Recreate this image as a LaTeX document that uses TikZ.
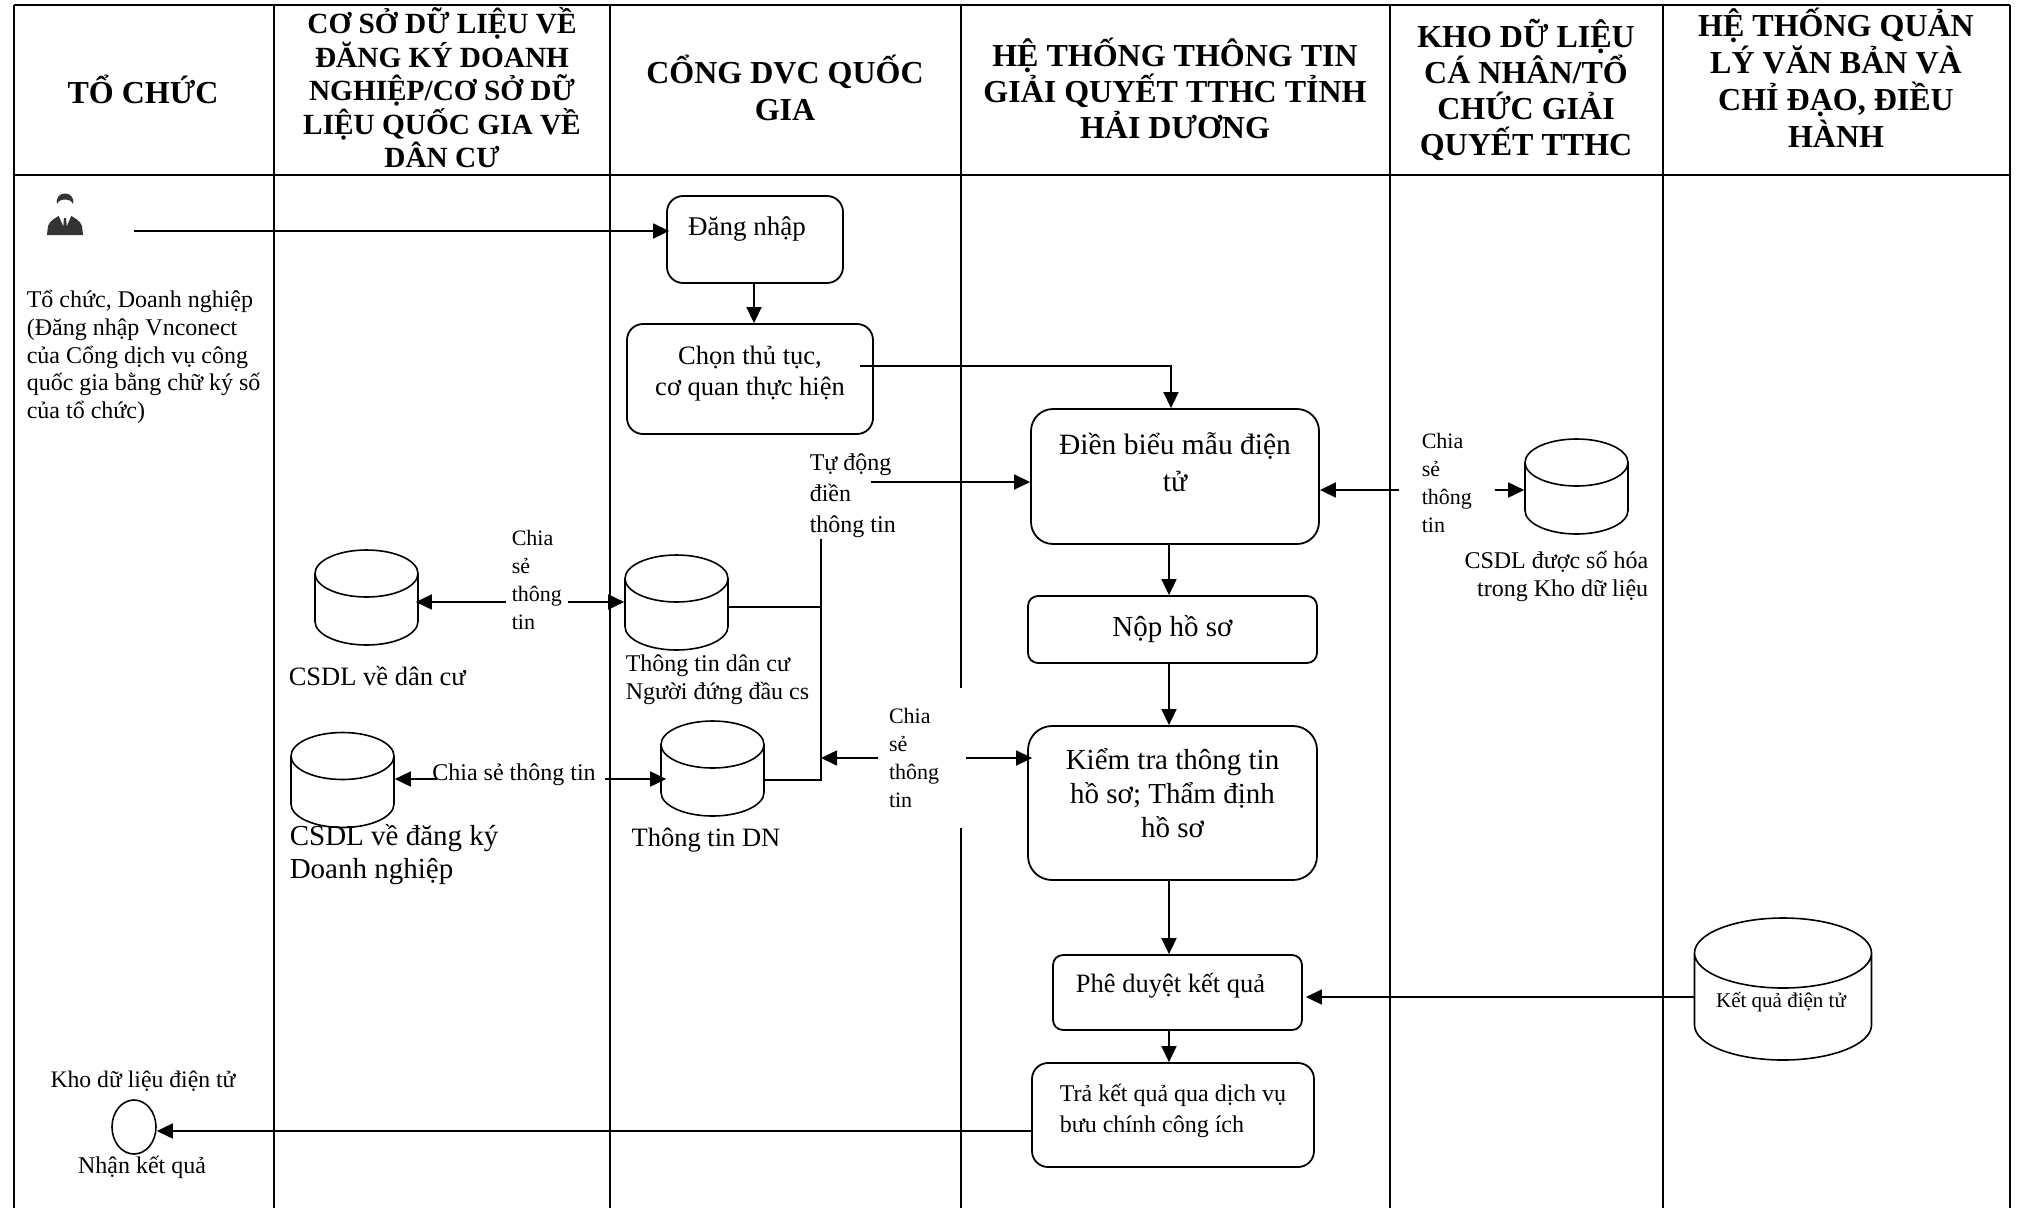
\documentclass[tikz,border=0pt]{standalone}
\usepackage{fontspec}
\setmainfont{Liberation Serif}
\usetikzlibrary{arrows.meta,shapes.geometric}
\newcommand{\fsize}[2]{\fontsize{#1}{#2}\selectfont}
\newcommand{\lifted}[3][c]{\raisebox{#2}[0pt][0pt]{\begin{tabular}{@{}#1@{}}#3\end{tabular}}}
\begin{document}
\begin{tikzpicture}[x=1pt,y=-1pt,line width=1.6pt,>={Triangle[length=16pt,width=15pt]},
    head/.style = {align=center,font=\bfseries},
    step box/.style = {draw,rounded corners=#1,line width=1.8pt,inner sep=0pt,align=center},
    step box/.default = 16pt,
    db/.style = {draw,shape=cylinder,shape border rotate=90,inner sep=10pt,shape aspect=2.35,anchor=shape center,minimum width=103pt,minimum height=95pt},
    note/.style = {align=left,inner sep=0pt}]
      \useasboundingbox (0,0) rectangle (2018,1208);
      % lanes
      \draw (14,5) -- (2010,5);
      \draw (14,175) -- (2010,175);
      \draw (14,5) -- (14,1208);
      \draw (274,5) -- (274,1208);
      \draw (610,5) -- (610,1208);
      \draw (961,5) -- (961,1208);
      \draw (1390,5) -- (1390,1208);
      \draw (1663,5) -- (1663,1208);
      \draw (2010,5) -- (2010,1208);
      \node[head,font=\bfseries\fsize{32}{36}] (h1) at (143,89) {TỔ CHỨC};
      \node[head,font=\bfseries\fsize{29.3}{33.5}] (h2) at (442,88) {CƠ SỞ DỮ LIỆU VỀ\\ĐĂNG KÝ DOANH\\NGHIỆP/CƠ SỞ DỮ\\LIỆU QUỐC GIA VỀ\\DÂN CƯ};
      \node[head,font=\bfseries\fsize{32}{37}] (h3) at (785,88) {CỔNG DVC QUỐC\\GIA};
      \node[head,font=\bfseries\fsize{32}{36}] (h4) at (1175,88) {HỆ THỐNG THÔNG TIN\\GIẢI QUYẾT TTHC TỈNH\\HẢI DƯƠNG};
      \node[head,font=\bfseries\fsize{32}{36}] (h5) at (1526,90) {KHO DỮ LIỆU\\CÁ NHÂN/TỔ\\CHỨC GIẢI\\QUYẾT TTHC};
      \node[head,font=\bfseries\fsize{32}{37}] (h6) at (1836,78) {HỆ THỐNG QUẢN\\LÝ VĂN BẢN VÀ\\CHỈ ĐẠO, ĐIỀU\\HÀNH};
      % person
      \fill[black!80] (47,235) -- (48,226) .. controls (50,220) and (56,218) .. (60,215) -- (70,215) .. controls (74,218) and (80,220) .. (82,226) -- (83,235) -- cycle;
      \fill[white] (58,214) -- (65,230) -- (72,214) -- cycle;
      \fill[black!80] (64,218) -- (66,218) -- (67,229) -- (65,232) -- (63,229) -- cycle;
      \fill[white] (65,205) ellipse (8pt and 10pt);
      \fill[black!80] (57,204) .. controls (54,190) and (76,190) .. (73,204) .. controls (71,198) and (59,198) .. (57,204) -- cycle;
      \node[note,font=\fsize{24}{27.6}] (org) at (26,357) [anchor=west] {Tổ chức, Doanh nghiệp\\(Đăng nhập Vnconect\\của Cổng dịch vụ công\\quốc gia bằng chữ ký số\\của tổ chức)};
      \coordinate (actor) at (134,231);
      % steps
      \node[step box,minimum width=176pt,minimum height=87pt,font=\fsize{27}{31}] (login) at (755,239.5) {\lifted{4pt}{Đăng nhập\hspace*{16pt}}};
      \node[step box,minimum width=246pt,minimum height=110pt,font=\fsize{26.5}{31}] (choose) at (750,379) {\lifted{-1pt}{Chọn thủ tục,\\cơ quan thực hiện}};
      \node[step box=22pt,minimum width=288pt,minimum height=135pt,font=\fsize{29.5}{37}] (form) at (1175,476.5) {\lifted{5pt}{Điền biểu mẫu điện\\tử}};
      \node[step box=10pt,minimum width=289pt,minimum height=67pt,font=\fsize{29}{34}] (submit) at (1172.5,629.5) {Nộp hồ sơ};
      \node[step box=24pt,minimum width=289pt,minimum height=154pt,font=\fsize{29}{34}] (check) at (1172.5,803) {\lifted{0pt}{Kiểm tra thông tin\\hồ sơ; Thẩm định\\hồ sơ}};
      \node[step box=10pt,minimum width=249pt,minimum height=75pt,font=\fsize{26.5}{30}] (approve) at (1177.5,992.5) {\lifted{0pt}{Phê duyệt kết quả\hspace*{14pt}}};
      \node[step box=16pt,minimum width=282pt,minimum height=104pt,font=\fsize{24}{31}] (reply) at (1173,1115) {\lifted[l]{-2pt}{Trả kết quả qua dịch vụ\\bưu chính công ích}};
      % stores
      \node[db] (resident) at (366.5,597.5) {};
      \node[db] (person) at (676.5,602.5) {};
      \node[db] (bizreg) at (342.5,780) {};
      \node[db] (bizinfo) at (712.5,768.5) {};
      \node[db] (digit) at (1576.5,486.5) {};
      \node[db,shape aspect=3.5,minimum width=177pt,minimum height=142pt] (esign) at (1783,989) {};
      \node[note,font=\fsize{21}{25}] (esigntext) at (1781,1002) {Kết quả điện tử};
      \node[note,font=\fsize{26.5}{30}] (residenttext) at (288,676) [anchor=west] {CSDL về dân cư};
      \node[note,font=\fsize{24}{28}] (persontext) at (625,680) [anchor=west] {Thông tin dân cư\\Người đứng đầu cs};
      \node[note,font=\fsize{29}{33}] (bizregtext) at (289,855) [anchor=west] {CSDL về đăng ký\\Doanh nghiệp};
      \node[note,font=\fsize{26.5}{30}] (bizinfotext) at (706,840) {Thông tin DN};
      \node[note,font=\fsize{24}{28},align=right] (digittext) at (1649,576) [anchor=east] {CSDL được số hóa\\trong Kho dữ liệu};
      % share labels
      \node[note,font=\fsize{22}{28},inner xsep=5pt] (share1) at (506,580) [anchor=west] {Chia\\sẻ\\thông\\tin};
      \node[note,font=\fsize{24}{28}] (share2) at (514,775) {Chia sẻ thông tin};
      \node[note,font=\fsize{22}{28},inner xsep=22pt] (share3) at (1399,483) [anchor=west] {Chia\\sẻ\\thông\\tin};
      \node[note,font=\fsize{22}{28},fill=white,minimum width=86pt,minimum height=140pt,text width=66pt] (share4) at (922,758) {Chia\\sẻ\\thông\\tin};
      \node[note,font=\fsize{24}{31}] (auto) at (809,496) [anchor=west] {Tự động\\điền\\thông tin};
      % end
      \node[draw,ellipse,minimum width=44pt,minimum height=54pt,inner sep=0pt] (done) at (134,1127) {};
      \node[note,font=\fsize{23.7}{28}] (donetop) at (143,1081) {Kho dữ liệu điện tử};
      \node[note,font=\fsize{24}{28}] (donebottom) at (142,1167) {Nhận kết quả};
      % connectors
      \coordinate (flow) at (1169,0);
      \coordinate (chooseout) at (860,366);
      \coordinate (autoout) at (871,482);
      \coordinate (trunktop) at (821,539);
      \coordinate (trunkmid) at (821,607);
      \coordinate (trunkbot) at (821,780);
      \coordinate (esignout) at (1695,997);
      \coordinate (replyout) at (1032,1131);
      \draw[->] (actor) -- ([xshift=3pt]actor -| login.west);
      \draw[->] (login.south -| 754,0) -- (choose.north -| 754,0);
      \draw[->] (chooseout) -| (form.north -| 1171,0);
      \draw[->] (autoout) -- (autoout -| form.west);
      \draw (trunktop) -- (trunkbot) -- (trunkbot -| bizinfo.east);
      \draw (trunkmid) -- (trunkmid -| person.east);
      \draw[->] (share4.west) -- (share4.west -| trunkmid);
      \draw[->] (share4.east) -- ([xshift=5pt]share4.east -| check.west);
      \draw[->] (form.south -| flow) -- (submit.north -| flow);
      \draw[->] (submit.south -| flow) -- (check.north -| flow);
      \draw[->] (check.south -| flow) -- (approve.north -| flow);
      \draw[->] (approve.south -| flow) -- (reply.north -| flow);
      \draw[->] (esignout) -- ([xshift=3pt]esignout -| approve.east);
      \draw[->] (replyout) -- (replyout -| done.east);
      \draw[->] ([yshift=-22pt]share1.west) -- ([yshift=-22pt,xshift=-3pt]share1.west -| resident.east);
      \draw[->] ([yshift=-22pt]share1.east) -- ([yshift=-22pt]share1.east -| person.west);
      \draw[->] ([yshift=-4pt,xshift=5pt]share2.west) -- ([yshift=-4pt]share2.west -| bizreg.east);
      \draw[->] ([yshift=-4pt,xshift=9pt]share2.east) -- ([yshift=-4pt,xshift=6pt]share2.east -| bizinfo.west);
      \draw[->] ([yshift=-7pt]share3.west) -- ([yshift=-7pt]share3.west -| form.east);
      \draw[->] ([yshift=-7pt]share3.east) -- ([yshift=-7pt]share3.east -| digit.west);
    \end{tikzpicture}
\end{document}
